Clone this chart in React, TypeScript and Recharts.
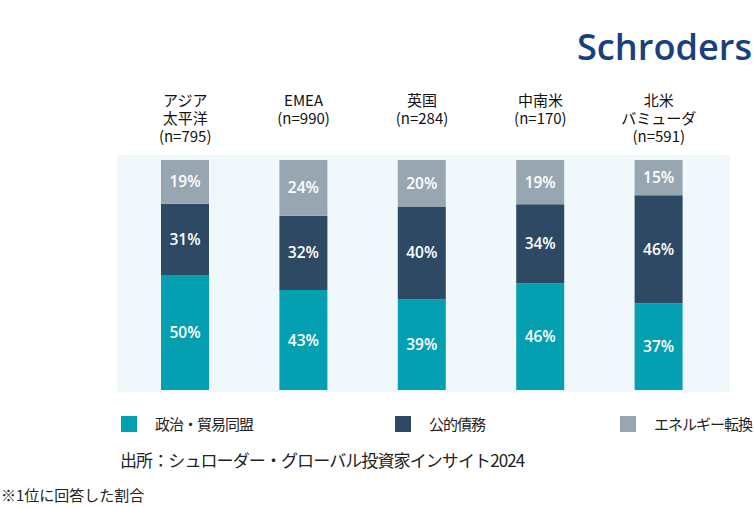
import React from 'react';
import { BarChart, Bar, XAxis, YAxis, CartesianGrid, LabelList, Legend } from 'recharts';

const regions = ['アジア\n太平洋\n(n=795)', 'EMEA\n(n=990)', '英国\n(n=284)', '中南米\n(n=170)', '北米\nバミューダ\n(n=591)'];
const politicsTrade = [50, 43, 39, 46, 37];
const publicDebt = [31, 32, 40, 34, 46];
const energyTransition = [19, 24, 20, 19, 15];

const seriesNames = ['政治・貿易同盟', '公的債務', 'エネルギー転換'];
const sourceText = '出所：シュローダー・グローバル投資家インサイト2024';
const footnoteText = '※1位に回答した割合';

const COLORS = ['#04a0b2', '#2e4964', '#98a6b1'];
const JP_FONT = '"Noto Sans CJK JP", "Noto Sans", sans-serif';

const data = regions.map((name, i) => ({
  name,
  politics: politicsTrade[i],
  debt: publicDebt[i],
  energy: energyTransition[i],
}));

const RegionTick = (props: any) => {
  const { x, y, payload } = props;
  const lines = String(payload.value).split('\n');
  return (
    <g>
      {lines.map((line, i) => (
        <text
          key={i}
          x={x}
          y={y - 41 + i * 18}
          textAnchor="middle"
          fill="#111"
          fontSize={15}
          fontFamily={JP_FONT}
        >
          {line}
        </text>
      ))}
    </g>
  );
};

// legend items sit at uneven spots in the original
const LEGEND_LEFT = [121, 395, 620];

const renderLegend = () => (
  <div style={{ position: 'relative', height: 20 }}>
    {seriesNames.map((name, i) => (
      <div
        key={name}
        style={{
          position: 'absolute',
          left: LEGEND_LEFT[i],
          top: 0,
          display: 'flex',
          alignItems: 'center',
          fontFamily: JP_FONT,
          fontSize: 15,
          letterSpacing: -1,
          color: '#222',
          whiteSpace: 'nowrap',
        }}
      >
        <span style={{ width: 16, height: 16, background: COLORS[i], marginRight: 18, display: 'inline-block' }} />
        {name}
      </div>
    ))}
  </div>
);

const pct = (v: any) => `${v}%`;

const labelStyle = { fill: '#fff', fontSize: 15.5, fontWeight: 600, fontFamily: '"Open Sans", sans-serif' };

export default function App() {
  return (
    <div style={{ position: 'absolute', left: 0, top: 0, width: 755, height: 507, background: '#fff' }}>
      <svg style={{ position: 'absolute', left: 0, top: 0 }} width={755} height={80}>
        <text
          x={577}
          y={60}
          textLength={175}
          lengthAdjust="spacingAndGlyphs"
          fill="#1a3f7e"
          fontSize={36}
          fontWeight={600}
          fontFamily='"Open Sans", sans-serif'
        >
          Schroders
        </text>
      </svg>
      <BarChart
        width={755}
        height={507}
        data={data}
        stackOffset="expand"
        margin={{ top: 95, right: 25, bottom: 115, left: 117 }}
        style={{ position: 'absolute', left: 0, top: 0 }}
      >
        <CartesianGrid horizontal={false} vertical={false} fill="#f0f8fb" stroke="none" />
        <XAxis
          dataKey="name"
          orientation="top"
          height={60}
          axisLine={false}
          tickLine={false}
          interval={0}
          padding={{ left: 9, right: 12 }}
          tick={<RegionTick />}
        />
        <YAxis hide domain={[0, 1]} padding={{ top: 5, bottom: 2 }} />
        {/* middle alignment keeps the legend from eating into the plot area */}
        <Legend
          content={renderLegend}
          verticalAlign="middle"
          wrapperStyle={{ left: 0, top: 413, width: 755 }}
        />
        <Bar dataKey="politics" name={seriesNames[0]} stackId="a" fill={COLORS[0]} barSize={48} isAnimationActive={false}>
          <LabelList dataKey="politics" position="center" formatter={pct} style={labelStyle} />
        </Bar>
        <Bar dataKey="debt" name={seriesNames[1]} stackId="a" fill={COLORS[1]} barSize={48} isAnimationActive={false}>
          <LabelList dataKey="debt" position="center" formatter={pct} style={labelStyle} />
        </Bar>
        <Bar dataKey="energy" name={seriesNames[2]} stackId="a" fill={COLORS[2]} barSize={48} isAnimationActive={false}>
          <LabelList dataKey="energy" position="center" formatter={pct} style={labelStyle} />
        </Bar>
      </BarChart>
      <div
        style={{
          position: 'absolute',
          left: 120,
          top: 447,
          fontFamily: JP_FONT,
          fontSize: 17,
          letterSpacing: -0.9,
          color: '#222',
          whiteSpace: 'nowrap',
        }}
      >
        {sourceText}
      </div>
      <div
        style={{
          position: 'absolute',
          left: 1,
          top: 484,
          fontFamily: JP_FONT,
          fontSize: 15,
          color: '#222',
          whiteSpace: 'nowrap',
        }}
      >
        {footnoteText}
      </div>
    </div>
  );
}
